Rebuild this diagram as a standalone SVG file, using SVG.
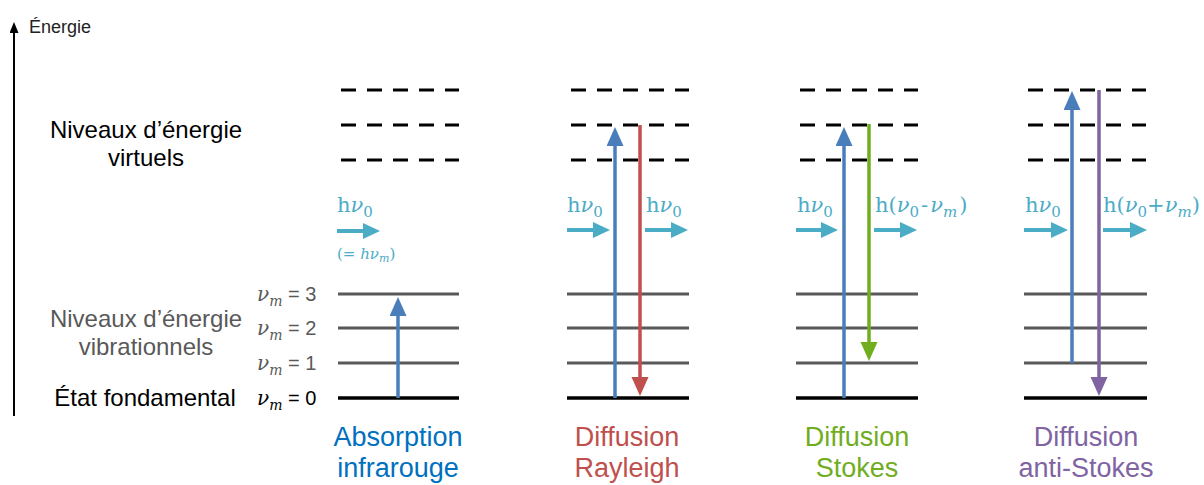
<svg xmlns="http://www.w3.org/2000/svg" width="1204" height="485" viewBox="0 0 1204 485">
<style>
.sans{font-family:"Liberation Sans",Arial,sans-serif}
.serif{font-family:"DejaVu Serif","Liberation Serif",serif}
.it{font-style:italic}
.lvl{stroke:#595959;stroke-width:3;fill:none}
.gnd{stroke:#000;stroke-width:3.5;fill:none}
.dash{stroke:#000;stroke-width:3;stroke-dasharray:15 11;fill:none}
.photon{stroke:#4bacc6;stroke-width:4;fill:none}
.v{stroke-width:3.5;fill:none}
.cy{fill:#4bacc6}
.lab{font-size:27px;text-anchor:middle}
.vm{font-size:20px}
</style>
<defs>
<marker id="hc" markerUnits="userSpaceOnUse" markerWidth="20" markerHeight="20" refX="2" refY="8" orient="auto"><path d="M0,0 L17,8 L0,16 Z" fill="#4bacc6"/></marker>
<marker id="hb" markerUnits="userSpaceOnUse" markerWidth="22" markerHeight="20" refX="2" refY="8.5" orient="auto"><path d="M0,0 L19,8.5 L0,17 Z" fill="#4a7ebb"/></marker>
<marker id="hr" markerUnits="userSpaceOnUse" markerWidth="22" markerHeight="20" refX="2" refY="8.5" orient="auto"><path d="M0,0 L19,8.5 L0,17 Z" fill="#c0504d"/></marker>
<marker id="hg" markerUnits="userSpaceOnUse" markerWidth="22" markerHeight="20" refX="2" refY="8.5" orient="auto"><path d="M0,0 L19,8.5 L0,17 Z" fill="#70ad1f"/></marker>
<marker id="hp" markerUnits="userSpaceOnUse" markerWidth="22" markerHeight="20" refX="2" refY="8.5" orient="auto"><path d="M0,0 L19,8.5 L0,17 Z" fill="#8064a2"/></marker>
<marker id="ha" markerUnits="userSpaceOnUse" markerWidth="14" markerHeight="12" refX="1" refY="4.5" orient="auto"><path d="M0,0 L11,4.5 L0,9 Z" fill="#000"/></marker>
</defs>

<g id="axis">
<line x1="14" y1="416" x2="14" y2="32" stroke="#000" stroke-width="2" marker-end="url(#ha)"/>
<text x="29" y="33" class="sans" font-size="18" fill="#222">Énergie</text>
</g>

<g id="labels-left">
<text class="sans" font-size="24" fill="#000" text-anchor="middle"><tspan x="146" y="138">Niveaux d’énergie</tspan><tspan x="146" y="166">virtuels</tspan></text>
<text class="sans" font-size="24" fill="#595959" text-anchor="middle"><tspan x="146" y="327">Niveaux d’énergie</tspan><tspan x="146" y="355">vibrationnels</tspan></text>
<text x="145" y="406" class="sans" font-size="24" fill="#000" text-anchor="middle">État fondamental</text>
</g>

<g id="vm-labels">
<text x="257" y="301" class="vm" fill="#595959"><tspan class="serif it">ν</tspan><tspan class="serif it" font-size="14" dy="5">m</tspan><tspan class="sans" dy="-5"> = 3</tspan></text>
<text x="257" y="335" class="vm" fill="#595959"><tspan class="serif it">ν</tspan><tspan class="serif it" font-size="14" dy="5">m</tspan><tspan class="sans" dy="-5"> = 2</tspan></text>
<text x="257" y="370" class="vm" fill="#595959"><tspan class="serif it">ν</tspan><tspan class="serif it" font-size="14" dy="5">m</tspan><tspan class="sans" dy="-5"> = 1</tspan></text>
<text x="257" y="405" class="vm" fill="#000"><tspan class="serif it">ν</tspan><tspan class="serif it" font-size="14" dy="5">m</tspan><tspan class="sans" dy="-5"> = 0</tspan></text>
</g>

<g id="levels">
<path class="dash" d="M341,90H459M341,125H459M341,160H459"/>
<path class="lvl" d="M338,294H459M338,328H459M338,363H459"/>
<path class="gnd" d="M338,398H459"/>
<path class="dash" d="M571,90H689M571,125H689M571,160H689"/>
<path class="lvl" d="M567,294H689M567,328H689M567,363H689"/>
<path class="gnd" d="M567,398H689"/>
<path class="dash" d="M800,90H918M800,125H918M800,160H918"/>
<path class="lvl" d="M796,294H918M796,328H918M796,363H918"/>
<path class="gnd" d="M796,398H918"/>
<path class="dash" d="M1028,90H1146M1028,125H1146M1028,160H1146"/>
<path class="lvl" d="M1024,294H1147M1024,328H1147M1024,363H1147"/>
<path class="gnd" d="M1024,398H1147"/>
</g>

<g id="connectors">
<line class="v" stroke="#4a7ebb" x1="398" y1="398" x2="398" y2="314" marker-end="url(#hb)"/>
<line class="v" stroke="#4a7ebb" x1="615" y1="398" x2="615" y2="144" marker-end="url(#hb)"/>
<line class="v" stroke="#c0504d" x1="640" y1="125" x2="640" y2="379" marker-end="url(#hr)"/>
<line class="v" stroke="#4a7ebb" x1="844" y1="398" x2="844" y2="144" marker-end="url(#hb)"/>
<line class="v" stroke="#70ad1f" x1="869" y1="124" x2="869" y2="344" marker-end="url(#hg)"/>
<line class="v" stroke="#4a7ebb" x1="1072" y1="363" x2="1072" y2="108" marker-end="url(#hb)"/>
<line class="v" stroke="#8064a2" x1="1099" y1="90" x2="1099" y2="379" marker-end="url(#hp)"/>
<line class="photon" x1="337" y1="231" x2="365" y2="231" marker-end="url(#hc)"/>
<line class="photon" x1="567" y1="230" x2="595" y2="230" marker-end="url(#hc)"/>
<line class="photon" x1="645" y1="230" x2="673" y2="230" marker-end="url(#hc)"/>
<line class="photon" x1="796" y1="230" x2="823" y2="230" marker-end="url(#hc)"/>
<line class="photon" x1="874" y1="230" x2="902" y2="230" marker-end="url(#hc)"/>
<line class="photon" x1="1024" y1="230" x2="1053" y2="230" marker-end="url(#hc)"/>
<line class="photon" x1="1103" y1="230" x2="1132" y2="230" marker-end="url(#hc)"/>
</g>

<g id="photon-labels" class="serif cy" font-size="21">
<text x="337" y="212">h<tspan class="it">ν</tspan><tspan font-size="15" dy="5">0</tspan></text>
<text x="337" y="259" font-size="15">(= <tspan class="it">hν</tspan><tspan class="it" font-size="11" dy="3">m</tspan><tspan dy="-3">)</tspan></text>
<text x="567" y="212">h<tspan class="it">ν</tspan><tspan font-size="15" dy="5">0</tspan></text>
<text x="646" y="212">h<tspan class="it">ν</tspan><tspan font-size="15" dy="5">0</tspan></text>
<text x="797" y="212">h<tspan class="it">ν</tspan><tspan font-size="15" dy="5">0</tspan></text>
<text x="875" y="212">h(<tspan class="it">ν</tspan><tspan font-size="15" dy="5">0</tspan><tspan dy="-5" dx="2">-</tspan><tspan class="it" dx="2">ν</tspan><tspan class="it" font-size="15" dy="5">m</tspan><tspan dy="-5" dx="2">)</tspan></text>
<text x="1025" y="212">h<tspan class="it">ν</tspan><tspan font-size="15" dy="5">0</tspan></text>
<text x="1103" y="212">h(<tspan class="it">ν</tspan><tspan font-size="15" dy="5">0</tspan><tspan dy="-5">+</tspan><tspan class="it">ν</tspan><tspan class="it" font-size="15" dy="5">m</tspan><tspan dy="-5">)</tspan></text>
</g>

<g id="process-labels" class="sans lab">
<text fill="#0070c0"><tspan x="398" y="446">Absorption</tspan><tspan x="398" y="477">infrarouge</tspan></text>
<text fill="#c0504d"><tspan x="627" y="446">Diffusion</tspan><tspan x="627" y="477">Rayleigh</tspan></text>
<text fill="#70ad1f"><tspan x="857" y="446">Diffusion</tspan><tspan x="857" y="477">Stokes</tspan></text>
<text fill="#8064a2"><tspan x="1086" y="446">Diffusion</tspan><tspan x="1086" y="477">anti-Stokes</tspan></text>
</g>
</svg>
